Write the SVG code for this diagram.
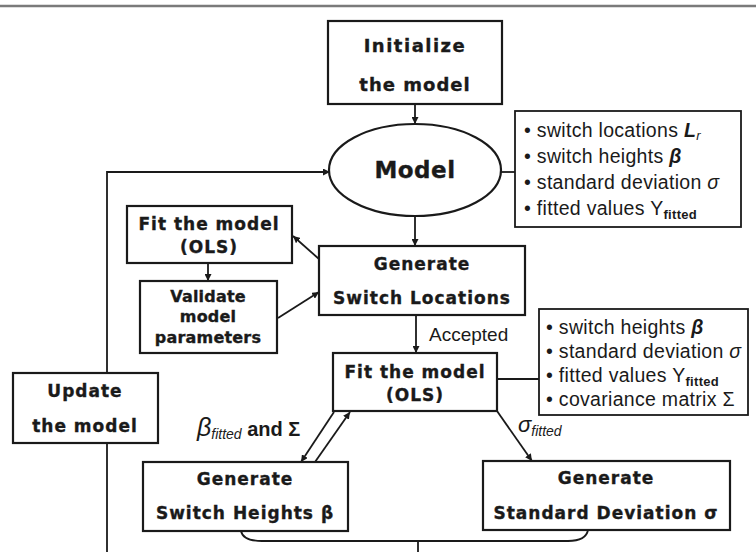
<svg xmlns="http://www.w3.org/2000/svg" width="756" height="552" viewBox="0 0 756 552">
<style>
.box{fill:#fff;stroke:#1a1a1a;stroke-width:2.2}
.thin{stroke-width:1.8}
.ln{fill:none;stroke:#1a1a1a;stroke-width:1.8}
.b{font-family:"DejaVu Sans",sans-serif;font-weight:bold;font-size:17px;fill:#1a1a1a;stroke:#1a1a1a;stroke-width:0.35;text-anchor:middle;letter-spacing:1px}
.b18{font-size:18px}
.bv{font-size:16px;letter-spacing:0.2px}
.bm{font-size:23px;letter-spacing:0.5px}
.i{font-family:"Liberation Sans",Arial,sans-serif;font-size:19.5px;fill:#1a1a1a;letter-spacing:0.3px}
.lab{font-family:"Liberation Sans",Arial,sans-serif;font-size:19px;fill:#1a1a1a}
</style>
<defs>
<marker id="ah" viewBox="0 0 10 10" refX="10" refY="5" markerWidth="7" markerHeight="7" markerUnits="userSpaceOnUse" orient="auto">
<path d="M0,0 L10,5 L0,10 z" fill="#1a1a1a"/>
</marker>
</defs>
<rect width="756" height="552" fill="#fff"/>
<line x1="0" y1="6" x2="756" y2="6" stroke="#7a7a7a" stroke-width="2.5"/>

<g id="connectors">
<line class="ln" x1="415" y1="104" x2="415" y2="124" marker-end="url(#ah)"/>
<line class="ln" x1="501" y1="172" x2="515" y2="172"/>
<polyline class="ln" points="107,373 107,172 330,172" marker-end="url(#ah)"/>
<line class="ln" x1="107" y1="443" x2="107" y2="552"/>
<line class="ln" x1="415" y1="216" x2="415" y2="246" marker-end="url(#ah)"/>
<line class="ln" x1="208" y1="263" x2="208" y2="281" marker-end="url(#ah)"/>
<line class="ln" x1="319" y1="259" x2="293" y2="236" marker-end="url(#ah)"/>
<line class="ln" x1="278" y1="318" x2="319" y2="292" marker-end="url(#ah)"/>
<line class="ln" x1="416" y1="315" x2="416" y2="353" marker-end="url(#ah)"/>
<line class="ln" x1="497" y1="379" x2="539" y2="379"/>
<line class="ln" x1="334" y1="412" x2="301" y2="462" marker-end="url(#ah)"/>
<line class="ln" x1="315" y1="462" x2="350" y2="412" marker-end="url(#ah)"/>
<line class="ln" x1="497" y1="411" x2="532" y2="461" marker-end="url(#ah)"/>
<path class="ln" d="M241,531 Q243,541 262,541 H568 Q586,541 588,530"/>
<line class="ln" x1="418" y1="541" x2="418" y2="552"/>
<text class="lab" x="429" y="341">Accepted</text>
<text class="lab" x="197" y="436"><tspan style="font-style:italic;font-size:25px">β</tspan><tspan style="font-style:italic;font-size:14px" dy="3">fitted</tspan><tspan style="font-weight:bold;font-size:20px" dy="-3"> and Σ</tspan></text>
<text class="lab" x="518" y="432"><tspan style="font-style:italic;font-size:22px">σ</tspan><tspan style="font-style:italic;font-size:14px" dy="4">fitted</tspan></text>
</g>

<g id="initialize">
<rect class="box" x="328" y="21" width="174" height="83"/>
<text class="b b18" x="415" y="52" style="letter-spacing:1.5px">Initialize</text>
<text class="b b18" x="415" y="91">the model</text>
</g>

<g id="model">
<ellipse class="box" cx="415" cy="170" rx="86" ry="46"/>
<text class="b bm" x="415" y="178">Model</text>
</g>

<g id="model-params">
<rect class="box thin" x="515" y="111" width="226" height="116"/>
<text class="i" x="524" y="137">• switch locations <tspan style="font-weight:bold;font-style:italic">L</tspan><tspan style="font-style:italic;font-size:13px" dy="3">r</tspan></text>
<text class="i" x="524" y="163">• switch heights <tspan style="font-weight:bold;font-style:italic">β</tspan></text>
<text class="i" x="524" y="189">• standard deviation <tspan style="font-style:italic">σ</tspan></text>
<text class="i" x="524" y="215">• fitted values Y<tspan style="font-weight:bold;font-size:13px" dy="4">fitted</tspan></text>
</g>

<g id="fit-small">
<rect class="box" x="127" y="206" width="165" height="57"/>
<text class="b" x="209" y="230">Fit the model</text>
<text class="b" x="209" y="253">(OLS)</text>
</g>

<g id="validate">
<rect class="box" x="140" y="281" width="137" height="72"/>
<text class="b bv" x="208" y="302">Validate</text>
<text class="b bv" x="208" y="322">model</text>
<text class="b bv" x="208" y="343">parameters</text>
</g>

<g id="gen-locations">
<rect class="box" x="319" y="246" width="206" height="69"/>
<text class="b" x="422" y="270">Generate</text>
<text class="b" x="422" y="304">Switch Locations</text>
</g>

<g id="update">
<rect class="box" x="13" y="373" width="145" height="70"/>
<text class="b" x="85" y="397">Update</text>
<text class="b" x="85" y="432">the model</text>
</g>

<g id="fit-main">
<rect class="box" x="333" y="353" width="164" height="58"/>
<text class="b" x="415" y="378">Fit the model</text>
<text class="b" x="415" y="401">(OLS)</text>
</g>

<g id="fit-params">
<rect class="box thin" x="539" y="309" width="209" height="106"/>
<text class="i" x="546" y="334">• switch heights <tspan style="font-weight:bold;font-style:italic">β</tspan></text>
<text class="i" x="546" y="358">• standard deviation <tspan style="font-style:italic">σ</tspan></text>
<text class="i" x="546" y="382">• fitted values Y<tspan style="font-weight:bold;font-size:13px" dy="4">fitted</tspan></text>
<text class="i" x="546" y="406">• covariance matrix Σ</text>
</g>

<g id="gen-heights">
<rect class="box" x="143" y="462" width="205" height="69"/>
<text class="b" x="245" y="485">Generate</text>
<text class="b" x="245" y="519">Switch Heights β</text>
</g>

<g id="gen-sd">
<rect class="box" x="483" y="461" width="247" height="69"/>
<text class="b" x="606" y="484">Generate</text>
<text class="b" x="606" y="519">Standard Deviation σ</text>
</g>
</svg>
